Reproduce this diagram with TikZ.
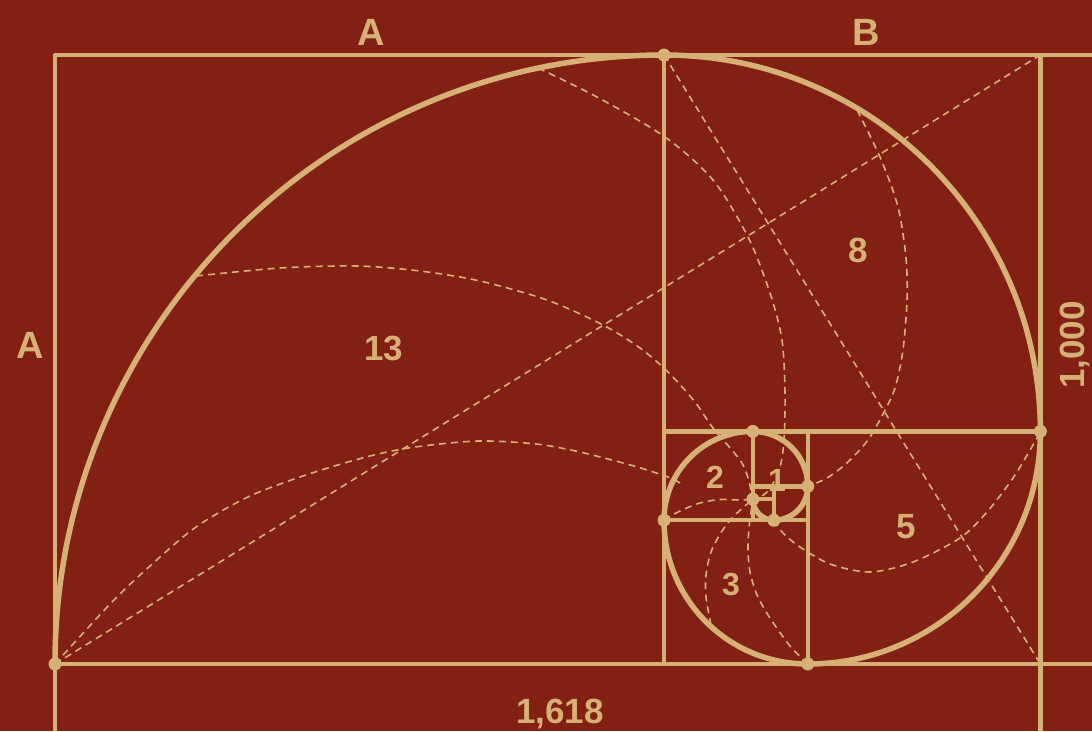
\documentclass[tikz,border=0pt]{standalone}
\usepackage{fontspec}
\setmainfont{Liberation Sans}
\usepackage{tikz}
\definecolor{fundal}{RGB}{130,32,20}
\definecolor{auriu}{RGB}{214,176,116}
\tikzset{
  linie/.style        = {draw=auriu, line width=4.5pt, line join=round},
  spirala/.style      = {draw=auriu, line width=5.5pt, line cap=round},
  punctat/.style      = {draw=auriu, line width=1.6pt, dash pattern=on 7pt off 5pt},
  punct/.style        = {fill=auriu},
  eticheta/.style     = {text=auriu, inner sep=0pt, anchor=base,
                         font=\bfseries\fontsize{35}{35}\selectfont},
  etichetamare/.style = {eticheta, font=\bfseries\fontsize{38}{38}\selectfont},
  etichetamica/.style = {eticheta, font=\bfseries\fontsize{32}{32}\selectfont}
}

\begin{document}
\begin{tikzpicture}[x=1pt, y=-1pt]
		\fill[fundal] (0,0) rectangle (1092,731);
		\useasboundingbox (0,0) rectangle (1092,731);

		\coordinate (sj)  at (55,664);
		\coordinate (m13) at (664,55);
		\coordinate (c13) at (664,664);
		\coordinate (dr)  at (1040.384,55);
		\coordinate (drj) at (1040.384,664);
		\coordinate (p8)  at (1040.384,431.384);
		\coordinate (p5)  at (807.768,664);
		\coordinate (p3)  at (664,520.232);
		\coordinate (p2)  at (752.848,431.384);
		\coordinate (p1)  at (807.768,486.304);
		\coordinate (p1b) at (773.84,520.232);
		\coordinate (pol) at (752.848,499.24);

		\draw[punctat] (sj) -- (dr);
		\draw[punctat] (m13) -- (drj);
		\draw[punctat] plot[smooth] coordinates {(196,276) (280,268) (357,266) (420,271) (480,281) (547,300) (603,325) (640,348) (668,372) (695,402) (713,428) (740,460) (748,478) (pol)};
		\draw[punctat] plot[smooth] coordinates {(sj) (112,602) (150,566) (196,527) (250,496) (312,473) (370,456) (415,447) (478,441) (536,444) (580,452) (634,466) (668,477) (680,483)};
		\draw[punctat] plot[smooth] coordinates {(538,68) (597,97) (665,137) (713,180) (748,237) (770,293) (782,340) (785,393) (784,440) (780,467) (771,487) (762,496) (pol)};
		\draw[punctat] plot[smooth] coordinates {(857,110) (880,157) (898,207) (906,258) (907,300) (903,350) (895,388) (883,414) (868,440) (848,462) (827,478) (p1)};
		\draw[punctat] plot[smooth] coordinates {(p1b) (783,533) (800,547) (830,564) (870,572) (913,562) (960,538) (987,512) (1013,478) (1033,445) (p8)};
		\draw[punctat] plot[smooth] coordinates {(711,625) (706,597) (706,575) (711,552) (722,531) (735,515) (pol)};
		\draw[punctat] plot[smooth] coordinates {(p3) (680,511) (700,503) (720,499.5) (740,500) (pol)};
		\draw[punctat] plot[smooth] coordinates {(p5) (790,646) (770,618) (757,595) (750,572) (748,550) (749,528) (pol)};

		\draw[linie] (55,731) |- (1092,55);
		\draw[linie] (sj) -- (1092,664);
		\draw[linie] (dr) -- (1040.384,731);
		\draw[linie] (m13) -- (c13);
		\draw[linie] (m13 |- p8) -- (p8);
		\draw[linie] (p2 -| p5) -- (p5);
		\draw[linie] (p3) -- (p3 -| p5);
		\draw[linie] (p2) -- (p2 |- p3);
		\draw[linie] (p2 |- p1) -- (p1);
		\draw[linie] (p1b |- p1) -- (p1b);
		\draw[linie] (pol) -- (pol -| p1b);

		\draw[spirala] (sj) \foreach \r [count=\i from 0] in {609,376.384,232.616,143.768,88.848,54.92,33.928,20.992} {arc[start angle=180+90*\i, delta angle=90, radius=\r]};

		\foreach \p in {sj,m13,p8,p5,p3,p2,p1,p1b,pol}
			\fill[punct] (\p) circle[radius=6.5];

		\node[etichetamare] (la)   at (371,45)  {A};
		\node[etichetamare] (lb)   at (866,45)  {B};
		\node[etichetamare] (lst)  at (30,358)  {A};
		\node[eticheta]     (l13)  at (384,360) {13};
		\node[eticheta]     (l8)   at (858,262) {8};
		\node[eticheta]     (l5)   at (906,538) {5};
		\node[etichetamica] (l3)   at (731,595) {3};
		\node[etichetamica] (l2)   at (715,488) {2};
		\node[etichetamica] (l1)   at (777,491) {1};
		\node[eticheta]     (lphi) at (560,723) {1,618};
		\node[eticheta, rotate=90] (lunu) at (1084,345) {1,000};
	\end{tikzpicture}
\end{document}
